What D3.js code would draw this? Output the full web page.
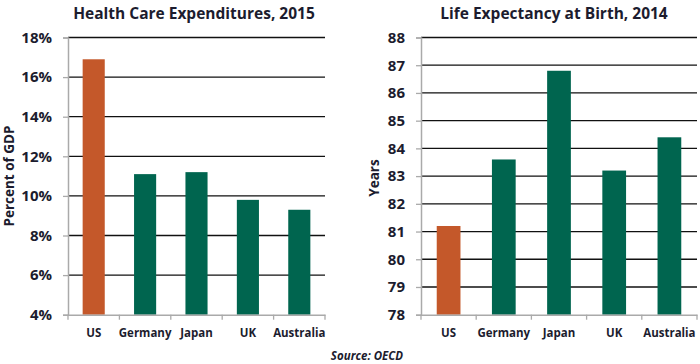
<!DOCTYPE html>
<html><head><meta charset="utf-8">
<script src="https://cdn.jsdelivr.net/npm/d3@7/dist/d3.min.js"></script>
<style>
body{margin:0;background:#fff;}
svg text{font-family:"Open Sans",Lato,sans-serif;font-weight:bold;fill:#1c1c2e;}
</style></head><body>
<svg id="c" width="700" height="364"></svg>
<script>
const categories = ["US","Germany","Japan","UK","Australia"];
const healthValues = [16.9, 11.1, 11.2, 9.8, 9.3];
const healthTicks = [4,6,8,10,12,14,16,18];
const lifeValues = [81.2, 83.6, 86.8, 83.2, 84.4];
const lifeTicks = [78,79,80,81,82,83,84,85,86,87,88];
const barColors = ["#C4582A","#00654F","#00654F","#00654F","#00654F"];

const svg = d3.select("#c");

function panel(opt){
  const g = svg.append("g");
  const x = d3.scaleBand().domain(categories).range([opt.x0, opt.x1]).paddingInner(0.57).paddingOuter(0.285);
  const xb = d3.scaleBand().domain(categories).range([opt.x0, opt.x1]);
  const y = d3.scaleLinear().domain(opt.domain).range([314.7, 37.5]);
  g.selectAll("line.grid").data(opt.ticks.slice(1)).join("line")
    .attr("x1", opt.x0).attr("x2", opt.x1)
    .attr("y1", d=>y(d)).attr("y2", d=>y(d))
    .attr("stroke","#111").attr("stroke-width",1.3);
  g.selectAll("rect").data(opt.values).join("rect")
    .attr("x",(d,i)=>x(categories[i])).attr("width",x.bandwidth())
    .attr("y",d=>y(d)).attr("height",d=>y(opt.domain[0])-y(d))
    .attr("fill",(d,i)=>barColors[i]);
  const ya = g.append("g").attr("transform",`translate(${opt.x0},0)`)
    .call(d3.axisLeft(y).tickValues(opt.ticks).tickFormat(opt.fmt).tickSize(5).tickPadding(11));
  ya.select(".domain").attr("stroke","#aaa").attr("stroke-width",1.5);
  ya.selectAll(".tick line").attr("stroke","#aaa").attr("stroke-width",1.3);
  ya.selectAll("text").attr("font-size",15).attr("fill","#1c1c2e");
  const xa = g.append("g").attr("transform",`translate(0,${y(opt.domain[0])})`)
    .call(d3.axisBottom(xb).tickSize(0).tickPadding(14));
  xa.select(".domain").attr("stroke","#aaa").attr("stroke-width",1.5);
  xa.selectAll("text").attr("font-size",11.5).attr("fill","#1c1c2e");
  g.append("g").selectAll("line").data(d3.range(categories.length+1)).join("line")
    .attr("x1",i=>opt.x0+i*xb.step()).attr("x2",i=>opt.x0+i*xb.step())
    .attr("y1",y(opt.domain[0])).attr("y2",y(opt.domain[0])+5)
    .attr("stroke","#aaa").attr("stroke-width",1.3);
  g.append("text").attr("x",opt.titleX).attr("y",19).attr("text-anchor","middle")
    .attr("font-size",15.5).text(opt.title);
  g.append("text").attr("transform",`translate(${opt.ylabX},${opt.ylabY}) rotate(-90)`)
    .attr("text-anchor","middle").attr("font-size",13.5).text(opt.ylab);
}

panel({x0:68,x1:325,domain:[4,18],ticks:healthTicks,values:healthValues,
  fmt:d=>d+"%",title:"Health Care Expenditures, 2015",titleX:194,
  ylab:"Percent of GDP",ylabX:14,ylabY:176});
panel({x0:421,x1:697,domain:[78,88],ticks:lifeTicks,values:lifeValues,
  fmt:d=>d,title:"Life Expectancy at Birth, 2014",titleX:554,
  ylab:"Years",ylabX:379,ylabY:178});

svg.append("text").attr("x",367).attr("y",360).attr("text-anchor","middle")
  .attr("font-size",11.5).attr("font-style","italic").text("Source: OECD");
</script>
</body></html>
